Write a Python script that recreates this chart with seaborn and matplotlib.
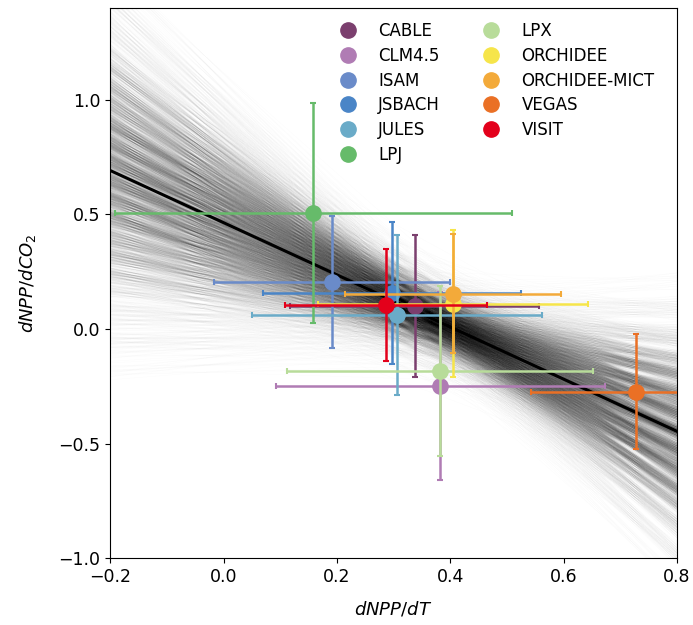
import itertools
import numpy as np
import pandas as pd
import matplotlib
matplotlib.use("Agg")
import matplotlib.pyplot as plt
from matplotlib.lines import Line2D
import seaborn as sns

# Model sensitivities
models = ['CABLE', 'CLM4.5', 'ISAM', 'JSBACH', 'JULES', 'LPJ',
          'LPX', 'ORCHIDEE', 'ORCHIDEE-MICT', 'VEGAS', 'VISIT']
dnpp_dt = [0.337, 0.382, 0.192, 0.297, 0.306, 0.158, 0.382, 0.405, 0.405, 0.728, 0.286]
dnpp_dco2 = [0.101, -0.250, 0.205, 0.157, 0.060, 0.504, -0.183, 0.110, 0.153, -0.273, 0.104]
xerr = [0.22, 0.29, 0.208, 0.227, 0.255, 0.35, 0.27, 0.238, 0.19, 0.185, 0.178]
yerr = [0.31, 0.41, 0.29, 0.31, 0.35, 0.48, 0.37, 0.32, 0.26, 0.25, 0.245]
colors = ['#7b3f6e', '#b07cb4', '#6a8bc9', '#4a85c7', '#6aabc8', '#66bb6a',
          '#b8dc9a', '#f6e54a', '#f3aa3a', '#ea7025', '#e3001b']

df = pd.DataFrame({'model': models, 'x': dnpp_dt, 'y': dnpp_dco2,
                   'xerr': xerr, 'yerr': yerr})

fig = plt.figure(figsize=(6.93, 6.25), dpi=100)
ax = fig.add_axes([0.159, 0.107, 0.818, 0.880])
ax.set_xlim(-0.2, 0.8)
ax.set_ylim(-1.0, 1.4)

# Uncertainty fan: regressions with the points shifted up/down within their y error bars
x = df['x'].values
y = df['y'].values
ye = df['yerr'].values
xs = np.array(ax.get_xlim())
for scale, alpha in [(1.0, 0.012), (0.6, 0.027)]:
    fan = []
    for signs in itertools.product([-1, 1], repeat=len(x)):
        slope, icpt = np.polyfit(x, y + scale * np.array(signs) * ye, 1)
        fan.append(icpt + slope * xs)
    fan = np.array(fan).T
    ax.plot(xs, fan, color='black', lw=0.5, alpha=alpha, zorder=1)

# Best-fit line
sns.regplot(data=df, x='x', y='y', ax=ax, scatter=False, ci=None, truncate=False,
            color='black', line_kws={'lw': 2.2, 'zorder': 2})

# Model points with error bars
for i, row in df.iterrows():
    ax.errorbar(row['x'], row['y'], xerr=row['xerr'], yerr=row['yerr'],
                fmt='o', color=colors[i], ms=11, elinewidth=1.8,
                capsize=2.5, capthick=1.5, zorder=3 + i)

handles = [Line2D([], [], marker='o', ls='', color=c, ms=11) for c in colors]
ax.legend(handles, models, ncol=2, frameon=False, fontsize=12,
          loc='upper left', bbox_to_anchor=(0.365, 1.0), handletextpad=0.8,
          columnspacing=2.1, labelspacing=0.4, borderaxespad=0.45)

ax.set_xticks([-0.2, 0.0, 0.2, 0.4, 0.6, 0.8])
ax.set_yticks([-1.0, -0.5, 0.0, 0.5, 1.0])
ax.tick_params(labelsize=12.5)
ax.set_xlabel('$dNPP/dT$', fontsize=13, labelpad=10)
ax.set_ylabel('$dNPP/dCO_2$', fontsize=13, labelpad=15)

fig.savefig('out.png', dpi=100)
